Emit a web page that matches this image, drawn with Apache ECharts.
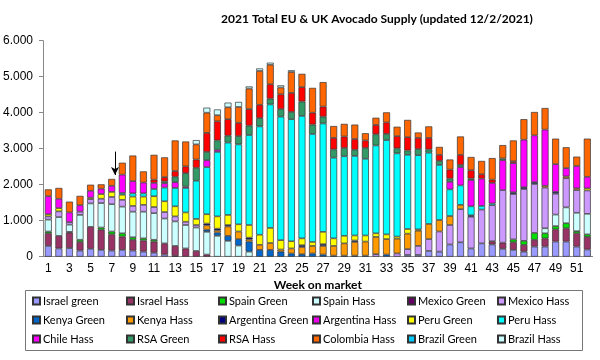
<!DOCTYPE html>
<html><head><meta charset="utf-8">
<script src="https://cdn.jsdelivr.net/npm/echarts@6/dist/echarts.min.js"></script>
<style>html,body{margin:0;padding:0;background:#fff}#c{width:600px;height:360px}</style>
</head><body><div id="c"></div>
<script>
const weeks = ['1','2','3','4','5','6','7','8','9','10','11','12','13','14','15','16','17','18','19','20','21','22','23','24','25','26','27','28','29','30','31','32','33','34','35','36','37','38','39','40','41','42','43','44','45','46','47','48','49','50','51','52'];
const yTicks = [0,1000,2000,3000,4000,5000,6000];

const israelGreen = [300,230,240,170,220,190,170,190,170,140,110,60,20,0,0,0,0,0,0,0,0,0,0,0,0,0,0,0,0,0,0,0,0,0,50,50,160,140,340,400,230,370,340,220,190,140,280,280,420,420,280,200];
const israelHass = [350,350,430,240,610,560,450,370,300,310,310,310,280,230,160,60,0,0,0,0,0,0,0,0,0,0,0,0,0,0,0,0,0,0,0,0,0,0,0,0,0,0,90,170,210,190,190,230,340,370,370,350];
const spainGreen = [50,0,20,60,0,60,80,90,70,60,50,0,0,0,0,0,0,0,0,0,0,0,0,0,0,0,0,0,0,0,0,0,0,0,0,0,0,0,0,0,0,0,0,0,80,110,190,140,90,140,60,70];
const spainHass = [330,520,200,690,650,680,760,740,710,740,740,690,680,650,650,630,580,440,310,140,0,0,0,0,0,0,0,0,0,0,0,0,0,0,0,0,0,0,0,0,0,0,0,0,0,0,0,140,320,440,510,570];
const mexicoGreen = [0,0,0,0,0,0,0,0,0,0,0,0,0,0,0,0,0,0,0,0,0,0,0,0,0,0,0,0,0,0,0,0,0,0,0,0,0,0,0,0,0,0,0,0,0,0,0,0,0,0,0,0];
const mexicoHass = [90,160,70,90,120,120,200,190,160,190,170,180,140,90,70,0,0,0,0,0,0,0,0,0,0,0,0,0,0,0,0,70,0,90,160,250,330,560,540,920,880,940,1000,1460,1260,1440,1360,1130,580,810,630,650];
const kenyaGreen = [0,0,0,0,0,0,0,0,0,0,0,0,0,0,0,60,90,140,180,280,190,190,140,90,70,90,60,30,30,30,30,0,60,0,0,0,0,0,0,0,0,0,0,0,0,0,0,0,0,0,0,0];
const kenyaHass = [0,0,0,0,0,0,0,0,0,0,0,0,0,0,0,120,60,260,210,60,140,190,60,140,200,210,240,270,340,380,390,480,430,410,430,420,420,320,250,120,0,0,0,0,0,0,0,50,0,50,50,0];
const argentinaGreen = [0,0,0,0,0,0,0,0,0,0,0,0,0,0,0,50,50,40,0,50,0,0,0,0,50,0,50,0,0,40,0,0,0,0,0,0,0,0,0,0,40,0,0,0,50,50,50,0,50,0,0,0];
const argentinaHass = [0,0,0,0,0,0,0,0,0,0,0,0,0,0,0,0,0,0,0,0,0,0,0,0,0,0,0,0,0,0,0,0,0,0,0,0,0,0,0,0,0,0,0,0,0,0,0,0,0,0,0,0];
const peruGreen = [60,90,0,0,40,130,140,140,260,230,300,300,280,260,170,260,340,280,200,350,280,420,260,200,190,110,340,210,210,140,170,100,130,60,130,40,0,0,0,0,0,0,0,0,0,0,0,0,0,0,0,60];
const peruHass = [0,0,0,0,0,0,0,50,90,90,200,380,510,680,1060,1310,1790,2010,2220,2500,3010,3430,3430,3390,3400,3000,3010,2240,2210,2210,2130,2440,2620,2310,2060,2060,1980,1530,740,540,250,100,50,0,0,0,0,0,0,0,0,0];
const chileHass = [500,260,270,180,190,150,170,510,340,300,170,120,160,40,0,190,60,0,0,0,0,0,0,0,0,0,0,0,0,0,0,0,0,0,0,0,0,0,210,510,730,760,570,830,810,1320,1300,1560,770,230,620,320];
const rsaGreen = [0,0,0,0,0,0,0,0,0,0,0,50,150,370,360,230,260,190,230,260,230,160,210,200,400,260,190,230,230,170,300,310,170,140,120,170,90,110,90,60,40,0,0,50,0,0,0,0,0,0,0,0];
const rsaHass = [0,0,0,0,0,0,0,0,0,0,90,120,160,190,230,530,530,460,370,460,370,400,410,530,400,330,280,320,320,300,210,260,320,340,370,310,320,170,250,280,230,120,90,0,50,0,0,0,0,0,0,0];
const colombiaHass = [190,300,300,260,170,120,190,330,710,310,690,550,850,690,420,560,170,330,440,570,940,540,190,580,370,690,680,330,350,400,200,200,280,260,480,150,320,220,280,510,370,370,600,370,580,570,650,600,710,580,260,1060];
const brazilGreen = [0,0,0,0,0,0,0,0,0,0,0,0,0,0,0,0,0,0,0,0,0,0,0,0,0,0,0,0,0,0,0,0,0,0,0,0,0,0,0,0,0,0,0,0,0,0,0,0,0,0,0,0];
const brazilHass = [0,0,0,0,0,0,0,0,0,0,0,0,0,0,120,140,160,130,140,60,70,60,60,50,0,0,0,0,0,0,0,0,0,0,0,0,0,0,0,0,0,0,0,0,0,0,0,0,0,0,0,0];

const seriesNames = ['Israel green','Israel Hass','Spain Green','Spain Hass','Mexico Green','Mexico Hass','Kenya Green','Kenya Hass','Argentina Green','Argentina Hass','Peru Green','Peru Hass','Chile Hass','RSA Green','RSA Hass','Colombia Hass','Brazil Green','Brazil Hass'];
const seriesData = [israelGreen,israelHass,spainGreen,spainHass,mexicoGreen,mexicoHass,kenyaGreen,kenyaHass,argentinaGreen,argentinaHass,peruGreen,peruHass,chileHass,rsaGreen,rsaHass,colombiaHass,brazilGreen,brazilHass];
const seriesColors = ['#9999FF','#993366','#00DD00','#CCFFFF','#660066','#CC99FF','#0066CC','#FF9900','#000080','#EE00EE','#FFFF00','#00FFFF','#FF00FF','#339966','#FF0000','#FF6600','#00CCFF','#CCFFFF'];
const arrowWeek = '7', arrowFrom = 2920, arrowTo = 2270;

const series = seriesNames.map((n,i)=>({
  name:n, type:'bar', stack:'total', barWidth:7,
  itemStyle:{color:seriesColors[i], borderColor:'#333', borderWidth:0.7},
  emphasis:{disabled:true},
  data: seriesData[i].map(v=> v===0 ? '-' : v)
}));
series[0].markLine = {
  silent:true, symbol:['none','arrow'], symbolSize:[6,8],
  label:{show:false},
  lineStyle:{color:'#000', width:1, type:'solid'},
  data:[[{coord:[arrowWeek,arrowFrom], x:115},{coord:[arrowWeek,arrowTo], x:115}]]
};

const cols = [
 ['Israel green','Kenya Green','Chile Hass'],
 ['Israel Hass','Kenya Hass','RSA Green'],
 ['Spain Green','Argentina Green','RSA Hass'],
 ['Spain Hass','Argentina Hass','Colombia Hass'],
 ['Mexico Green','Peru Green','Brazil Green'],
 ['Mexico Hass','Peru Hass','Brazil Hass']
];
const colLeft = [32,126,218,312,407,497];
const legends = cols.map((c,i)=>({
  data:c, orient:'vertical', left:colLeft[i], top:294, itemGap:5,
  itemWidth:7, itemHeight:7, icon:'rect', selectedMode:false, padding:0,
  textStyle:{fontFamily:'Lato', fontSize:11, color:'#000', lineHeight:14, padding:[0,0,0,-2]}
}));

const chart = echarts.init(document.getElementById('c'),null,{renderer:'canvas'});
chart.setOption({
  animation:false,
  title:{text:'2021 Total EU & UK Avocado Supply (updated 12/2/2021)', left:372, top:8, textAlign:'center',
    textStyle:{fontFamily:'Lato', fontWeight:'bold', fontSize:12, color:'#000'}},
  grid:{left:43, right:7.4, top:40.7, bottom:103.3},
  xAxis:{type:'category', data:weeks,
    name:'Week on market', nameLocation:'middle', nameGap:20,
    nameTextStyle:{fontFamily:'Lato', fontWeight:'bold', fontSize:12, color:'#000'},
    axisLine:{lineStyle:{color:'#888'}},
    axisTick:{interval:0, length:4, lineStyle:{color:'#888'}},
    axisLabel:{interval:1, fontFamily:'Liberation Sans', fontSize:12, color:'#000', margin:6}},
  yAxis:{type:'value', min:yTicks[0], max:yTicks[yTicks.length-1], interval:1000,
    splitLine:{show:false},
    axisLine:{show:true, lineStyle:{color:'#888'}},
    axisTick:{show:true, length:4, lineStyle:{color:'#888'}},
    axisLabel:{fontFamily:'Liberation Sans', fontSize:12, color:'#000', margin:10,
      formatter:v=> v===0 ? '0' : (v/1000)+'.000'}},
  legend:legends,
  graphic:[{type:'rect', shape:{x:25.5, y:290.5, width:557, height:60}, style:{fill:'none', stroke:'#777', lineWidth:1}, silent:true, z:-1}],
  series:series
});
</script></body></html>
